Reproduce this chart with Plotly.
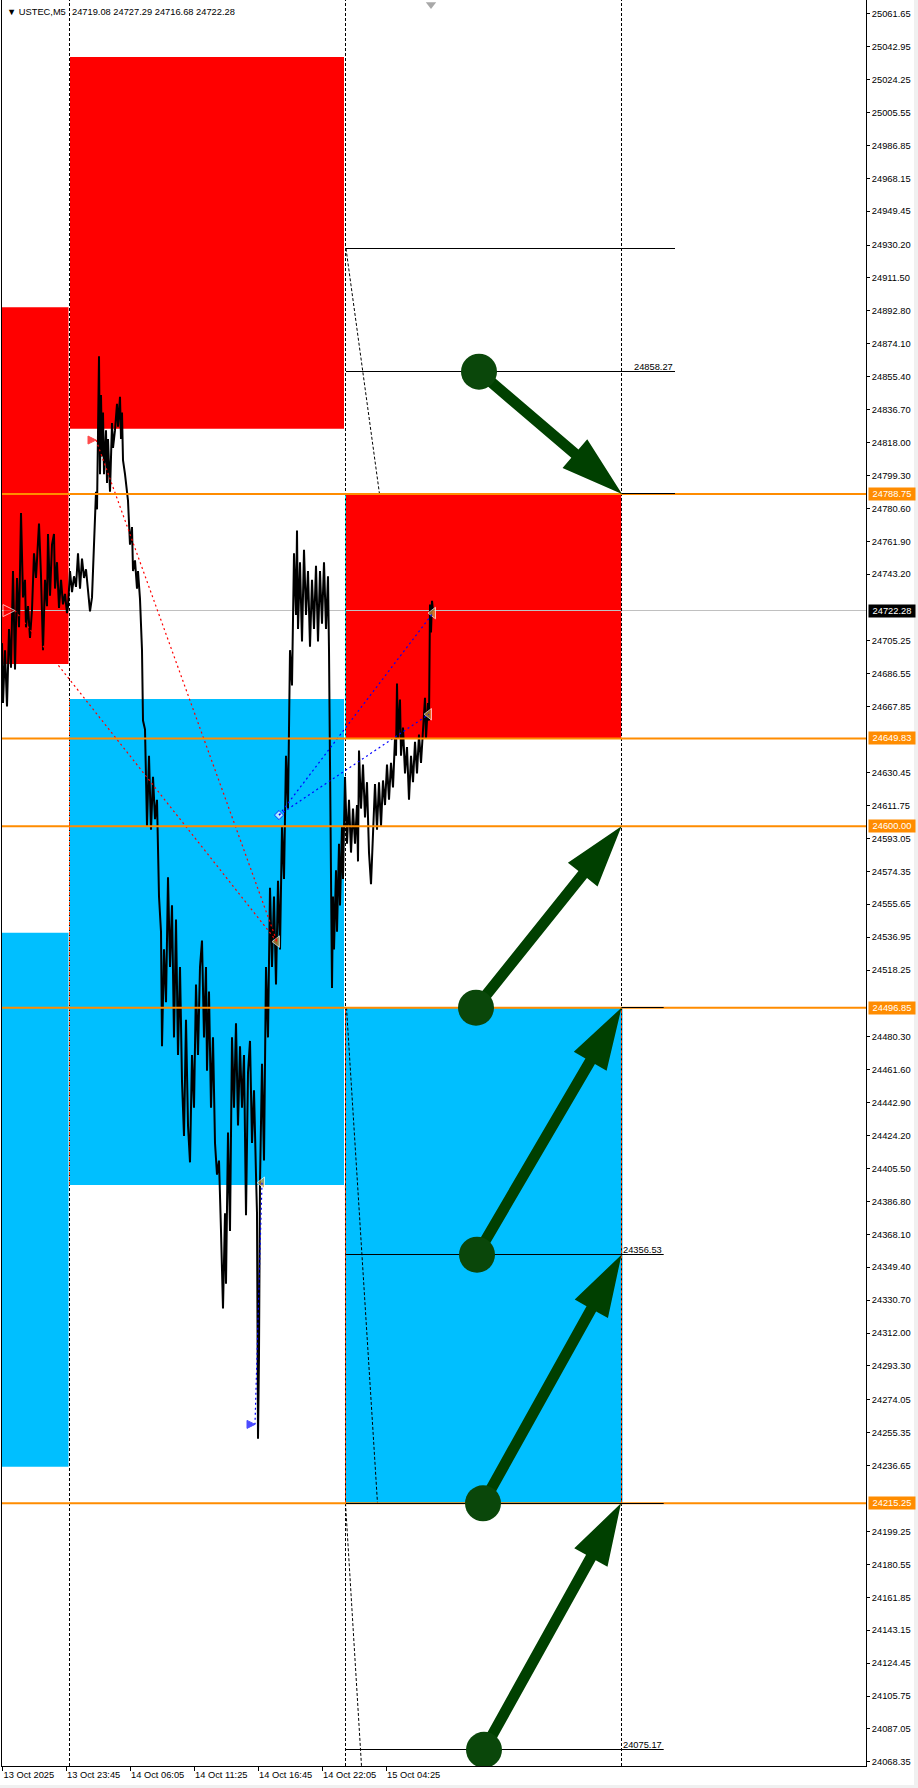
import plotly.graph_objects as go

# ---------------- data ----------------
price_path = [
    (2, 24704), (3, 24670), (5, 24700), (7, 24668), (9, 24712), (11, 24690), (13, 24745), (15, 24689),
    (17, 24741), (19, 24713), (21, 24778), (23, 24730), (25, 24740), (26, 24713), (28, 24725), (30, 24707),
    (32, 24723), (34, 24755), (36, 24741), (38, 24760), (39, 24772), (41, 24742), (43, 24700), (45, 24740),
    (47, 24725), (48, 24766), (50, 24731), (52, 24760), (54, 24766), (55, 24735), (57, 24750), (59, 24724),
    (61, 24740), (63, 24726), (65, 24732), (67, 24721), (68, 24725),
    (70, 24745), (72, 24733), (74, 24742), (76, 24736), (78, 24755), (80, 24735), (82, 24752), (84, 24741),
    (86, 24746), (88, 24734), (90, 24722), (92, 24730), (94, 24759), (96, 24790), (97, 24780), (98, 24830),
    (99, 24867), (100, 24800), (101, 24845), (102, 24810), (103, 24835), (104, 24800), (106, 24825), (107, 24795),
    (108, 24820), (110, 24790), (112, 24829), (113, 24815), (115, 24825), (117, 24840), (118, 24827), (120, 24844),
    (121, 24820), (122, 24835), (123, 24808), (125, 24800), (127, 24789), (128, 24785), (130, 24760), (132, 24770),
    (133, 24745), (135, 24751), (137, 24735), (138, 24745), (140, 24729), (142, 24700), (143, 24660),
    (145, 24655), (147, 24600), (149, 24640), (151, 24598), (153, 24628), (155, 24604), (157, 24615), (159, 24560),
    (161, 24540), (162, 24475), (164, 24530), (166, 24500), (168, 24571), (170, 24520), (172, 24555), (174, 24480),
    (176, 24547), (178, 24470), (180, 24520), (182, 24455), (184, 24424), (186, 24490), (188, 24430), (190, 24409),
    (192, 24470), (194, 24440), (196, 24510), (198, 24470), (200, 24520), (202, 24535), (204, 24480), (206, 24520),
    (207, 24461), (209, 24506), (211, 24440), (213, 24480), (215, 24420), (217, 24402), (219, 24410), (221, 24370),
    (223, 24326), (225, 24380), (226, 24340), (228, 24426), (230, 24370), (232, 24480), (234, 24440), (236, 24488),
    (238, 24430), (240, 24475), (242, 24440), (244, 24470), (246, 24379), (248, 24460), (250, 24478), (252, 24420),
    (254, 24450), (256, 24402), (257, 24380), (258, 24252), (259, 24300), (260, 24398), (262, 24465), (264, 24410),
    (266, 24520), (268, 24480), (270, 24565), (272, 24520), (274, 24560), (276, 24510), (278, 24569), (280, 24530),
    (282, 24600), (284, 24570), (286, 24640), (288, 24610), (290, 24700), (292, 24680), (294, 24755), (296, 24720),
    (297, 24768), (298, 24712), (300, 24750), (302, 24705), (304, 24757), (306, 24720), (308, 24745), (310, 24702),
    (312, 24740), (314, 24712), (316, 24748), (318, 24705), (320, 24745), (322, 24715), (324, 24750), (326, 24712),
    (328, 24742), (329, 24700), (330, 24620), (331, 24560), (332, 24508), (333, 24560), (334, 24530), (336, 24575),
    (337, 24540), (339, 24590), (340, 24555), (342, 24600), (343, 24570), (345, 24628), (347, 24590), (349, 24615),
    (351, 24585), (353, 24610), (355, 24590), (357, 24612), (358, 24580), (359, 24643), (361, 24610), (363, 24635),
    (365, 24605), (367, 24625), (369, 24585), (371, 24567), (373, 24600), (375, 24624), (377, 24598), (379, 24625),
    (381, 24600), (383, 24626), (385, 24612), (387, 24635), (389, 24615), (391, 24636), (393, 24622), (395, 24650),
    (396, 24640), (397, 24681), (398, 24650), (400, 24672), (401, 24640), (403, 24656), (405, 24630), (407, 24645),
    (409, 24615), (411, 24640), (413, 24625), (415, 24648), (417, 24630), (419, 24652), (421, 24636), (423, 24655),
    (425, 24673), (426, 24650), (428, 24670), (429, 24660), (430, 24726), (431, 24710), (432, 24728), (433, 24722.28),
]
bar_x = [b[0] for b in price_path]
bar_price = [b[1] for b in price_path]

time_tick_x = [2.5, 66, 130, 194, 258, 322, 386]
time_tick_text = ["13 Oct 2025", "13 Oct 23:45", "14 Oct 06:05", "14 Oct 11:25",
                  "14 Oct 16:45", "14 Oct 22:05", "15 Oct 04:25"]

price_ticks = [25061.65, 25042.95, 25024.25, 25005.55, 24986.85, 24968.15, 24949.45, 24930.20,
               24911.50, 24892.80, 24874.10, 24855.40, 24836.70, 24818.00, 24799.30, 24780.60,
               24761.90, 24743.20, 24705.25, 24686.55, 24667.85, 24630.45,
               24611.75, 24593.05, 24574.35, 24555.65, 24536.95, 24518.25, 24480.30,
               24461.60, 24442.90, 24424.20, 24405.50, 24386.80, 24368.10, 24349.40, 24330.70,
               24312.00, 24293.30, 24274.05, 24255.35, 24236.65, 24199.25, 24180.55,
               24161.85, 24143.15, 24124.45, 24105.75, 24087.05, 24068.35]

# zones: (start bar, end bar, low price, high price)
red_zones = [(2, 68.5, 24692.1, 24894.8), (70, 344, 24825.8, 25037.0), (346, 621.2, 24649.83, 24788.75)]
blue_zones = [(2, 68.5, 24236.1, 24539.4), (69.3, 344, 24396.1, 24672.3), (346, 622.5, 24215.25, 24496.85)]

orange_levels = [24788.75, 24649.83, 24600.00, 24496.85, 24215.25]
bid_price = 24722.28
header_ohlc = [24719.08, 24727.29, 24716.68, 24722.28]

# black target levels: (price, start bar, end bar, label)
target_levels = [(24928.20, 346, 675, ""), (24858.27, 346, 675, "24858.27"), (24788.75, 621.5, 675, ""),
                 (24496.85, 621.5, 663.7, ""), (24356.53, 346, 663.7, "24356.53"),
                 (24215.25, 346, 663.7, ""), (24075.17, 346, 663.7, "24075.17")]

separator_x = [69.5, 345.5, 621.5]

# dashed projections: (bar0, price0, bar1, price1)
projections = [(346, 24928.20, 379.5, 24788.75), (346.5, 24496.85, 377.5, 24215.25),
               (345.5, 24215.25, 361.5, 24066.0)]

# signal markers
sig_x = [15, 96, 279, 277, 433, 429, 262, 255]
sig_price = [24722.5, 24819.4, 24606.3, 24534.4, 24721.1, 24663.6, 24397.4, 24260.1]
red_links = [(0, 3), (1, 3)]
blue_links = [(2, 4), (2, 5), (6, 7)]

# green arrows: start bar, start price, end bar, end price
arrow_x0 = [479, 476, 477, 483, 484]
arrow_p0 = [24858.27, 24496.85, 24356.53, 24215.25, 24075.17]
arrow_x1 = [622, 621.5, 621.5, 621.5, 621]
arrow_p1 = [24788.75, 24600.00, 24496.85, 24356.53, 24215.25]

# ---------------- layout geometry ----------------
W, H = 918, 1788
ML, MR, MT, MB = 2, 52, 0, 22
X_MIN, X_MAX = 2, 866
Y_MIN, Y_MAX = 24066.0, 25069.43
PLOT_H = H - MT - MB
k = PLOT_H / (Y_MAX - Y_MIN)  # px per price unit

FONT = "Liberation Sans, Arial, sans-serif"
FS = 9.3
RED = "#FF0000"
BLUE = "#00BFFF"
ORANGE = "#FF8C00"
GREEN = "#004000"


def snap(p):
    """price -> price at the centre of its pixel row (crisp 1px lines)"""
    row = int((Y_MAX - p) * k)
    return Y_MAX - (row + 0.5) / k


shapes = []


def hline(p, x0, x1, color, width=1, dash="solid", layer="above"):
    shapes.append(dict(type="line", xref="x", yref="y", x0=x0, x1=x1, y0=p, y1=p,
                       line=dict(color=color, width=width, dash=dash), layer=layer))


def seg(x0, p0, x1, p1, color, width=1, dash="solid", layer="above"):
    shapes.append(dict(type="line", xref="x", yref="y", x0=x0, x1=x1, y0=p0, y1=p1,
                       line=dict(color=color, width=width, dash=dash), layer=layer))


# zones (background)
for x0, x1, lo, hi in red_zones:
    shapes.append(dict(type="rect", xref="x", yref="y", x0=x0, x1=x1, y0=lo, y1=hi,
                       fillcolor=RED, line=dict(width=0), layer="below"))
for x0, x1, lo, hi in blue_zones:
    shapes.append(dict(type="rect", xref="x", yref="y", x0=x0, x1=x1, y0=lo, y1=hi,
                       fillcolor=BLUE, line=dict(width=0), layer="below"))

# bid line (below bars)
hline(snap(bid_price), X_MIN, X_MAX, "#C0C0C0", 1, layer="below")

# period separators
for sx in separator_x:
    seg(sx, Y_MIN, sx, Y_MAX, "#000000", 1, "3px,2px")
# separators seen through zones (xor colours)
seg(separator_x[1], red_zones[2][2], separator_x[1], red_zones[2][3], "#00FFFF", 1, "3px,2px")
seg(separator_x[0], blue_zones[1][2], separator_x[0], blue_zones[1][3], "#FF4000", 1, "3px,2px")
seg(separator_x[1], blue_zones[2][2], separator_x[1], blue_zones[2][3], "#FF4000", 1, "3px,2px")
seg(separator_x[2], blue_zones[2][2], separator_x[2], blue_zones[2][3], "#FF4000", 1, "3px,2px")

# dashed projections
for x0, p0, x1, p1 in projections:
    seg(x0, p0, x1, p1, "#000000", 1, "3px,2px")

# signal connectors
for a, b in red_links:
    seg(sig_x[a], sig_price[a], sig_x[b], sig_price[b], RED, 1.2, "2px,3px")
for a, b in blue_links:
    seg(sig_x[a], sig_price[a], sig_x[b], sig_price[b], "#0000FF", 1.2, "2px,3px")

# orange levels
for p in orange_levels:
    hline(p, X_MIN, X_MAX, ORANGE, 2)

# black target levels
for p, x0, x1, lab in target_levels:
    hline(snap(p), x0, x1, "#000000", 1)


# green arrows
def arrow_path(x0, p0, x1, p1):
    X0, Y0 = x0, p0 * k
    X1, Y1 = x1, p1 * k
    dx, dy = X1 - X0, Y1 - Y0
    L = (dx * dx + dy * dy) ** 0.5
    ux, uy = dx / L, dy / L
    nx, ny = -uy, ux
    HL, HW, SW = 62, 19, 5.5
    bx, by = X1 - HL * ux, Y1 - HL * uy
    pts = [(X0 + SW * nx, Y0 + SW * ny), (bx + SW * nx, by + SW * ny), (bx + HW * nx, by + HW * ny),
           (X1, Y1), (bx - HW * nx, by - HW * ny), (bx - SW * nx, by - SW * ny), (X0 - SW * nx, Y0 - SW * ny)]
    return "M " + " L ".join(f"{px:.3f},{py / k:.4f}" for px, py in pts) + " Z"


for x0, p0, x1, p1 in zip(arrow_x0, arrow_p0, arrow_x1, arrow_p1):
    shapes.append(dict(type="path", xref="x", yref="y", path=arrow_path(x0, p0, x1, p1),
                       fillcolor=GREEN, line=dict(width=0), layer="above"))
    r = 18
    shapes.append(dict(type="circle", xref="x", yref="y", x0=x0 - r, x1=x0 + r,
                       y0=p0 - r / k, y1=p0 + r / k, fillcolor="#0A470A", line=dict(width=0),
                       layer="above"))

# light grey window frame strips
shapes.append(dict(type="rect", xref="paper", yref="paper", x0=(914 - ML) / (W - ML - MR),
                   x1=(918 - ML) / (W - ML - MR), y0=-MB / PLOT_H, y1=1, fillcolor="#F0F0F0",
                   line=dict(width=0), layer="below"))
shapes.append(dict(type="rect", xref="paper", yref="paper", x0=-ML / (W - ML - MR),
                   x1=(918 - ML) / (W - ML - MR), y0=-MB / PLOT_H, y1=-(MB - 3) / PLOT_H,
                   fillcolor="#F0F0F0", line=dict(width=0), layer="below"))

fig = go.Figure()

fig.add_trace(go.Scatter(x=bar_x, y=bar_price, mode="lines",
                         line=dict(color="#000000", width=2.0), hoverinfo="skip", showlegend=False))

sig_symbols = ["arrow-right", "arrow-right", "diamond", "triangle-left", "triangle-left",
               "triangle-left", "triangle-left", "arrow-right"]
sig_colors = [RED, RED, "#FFFFFF", "#D49A3C", "#D49A3C", "#D49A3C", "#D49A3C", "#0000FF"]
sig_lines = ["#FFFFFF", RED, "#0000FF", "#FFFFFF", "#FFFFFF", "#FFFFFF", "#FFFFFF", "#0000FF"]
sig_sizes = [12, 8, 7, 10, 10, 10, 10, 8]
fig.add_trace(go.Scatter(x=sig_x, y=sig_price, mode="markers",
                         marker=dict(symbol=sig_symbols, color=sig_colors, size=sig_sizes,
                                     line=dict(color=sig_lines, width=1)),
                         hoverinfo="skip", showlegend=False))

# chart-shift marker at the top
fig.add_trace(go.Scatter(x=[bar_x[-1] - 2], y=[Y_MAX - 4.5 / k], mode="markers",
                         marker=dict(symbol="triangle-down", color="#A8A8A8", size=9),
                         cliponaxis=False, hoverinfo="skip", showlegend=False))

annotations = []
# axis labels for levels
for p in orange_levels:
    annotations.append(dict(xref="paper", yref="y", x=1, y=p, xanchor="left", yanchor="middle",
                            xshift=2, text=f"{p:.2f}", showarrow=False, bgcolor=ORANGE,
                            font=dict(family=FONT, size=FS, color="#FFFFFF"),
                            width=44, height=10, borderpad=1))
annotations.append(dict(xref="paper", yref="y", x=1, y=bid_price, xanchor="left", yanchor="middle",
                        xshift=2, text=f"{bid_price:.2f}", showarrow=False, bgcolor="#000000",
                        font=dict(family=FONT, size=FS, color="#FFFFFF"),
                        width=44, height=10, borderpad=1))
# target level labels
for p, x0, x1, lab in target_levels:
    if lab:
        annotations.append(dict(xref="x", yref="y", x=x1, y=p, xanchor="right", yanchor="bottom",
                                text=lab, showarrow=False, yshift=-2,
                                font=dict(family=FONT, size=FS, color="#000000")))
# header
annotations.append(dict(xref="x", yref="paper", x=5, y=1, xanchor="left", yanchor="middle",
                        yshift=-12, text="▼ USTEC,M5", showarrow=False,
                        font=dict(family=FONT, size=FS, color="#000000")))
annotations.append(dict(xref="x", yref="paper", x=70, y=1, xanchor="left", yanchor="middle",
                        yshift=-12, text=" ".join(f"{v:.2f}" for v in header_ohlc), showarrow=False,
                        font=dict(family=FONT, size=FS, color="#000000")))

fig.update_layout(
    width=W, height=H,
    margin=dict(l=ML, r=MR, t=MT, b=MB),
    paper_bgcolor="#FFFFFF", plot_bgcolor="#FFFFFF",
    font=dict(family=FONT, size=FS, color="#000000"),
    shapes=shapes, annotations=annotations, showlegend=False,
    xaxis=dict(range=[X_MIN, X_MAX], showgrid=False, zeroline=False, showline=True,
               linecolor="#000000", linewidth=1, ticks="outside", ticklen=4, tickcolor="#000000",
               tickvals=time_tick_x, ticktext=time_tick_text, ticklabelposition="outside right",
               tickfont=dict(family=FONT, size=FS, color="#000000"), fixedrange=True),
    yaxis=dict(range=[Y_MIN, Y_MAX], side="right", showgrid=False, zeroline=False, showline=True,
               mirror=True, linecolor="#000000", linewidth=1, ticks="outside", ticklen=3,
               tickcolor="#000000", tickvals=price_ticks, ticktext=[f"{v:.2f}" for v in price_ticks],
               tickfont=dict(family=FONT, size=FS, color="#000000"), fixedrange=True),
)

fig.write_html("out.html", config={"displayModeBar": False},
               post_script="document.body.style.margin='0px';document.body.style.overflow='hidden';")
